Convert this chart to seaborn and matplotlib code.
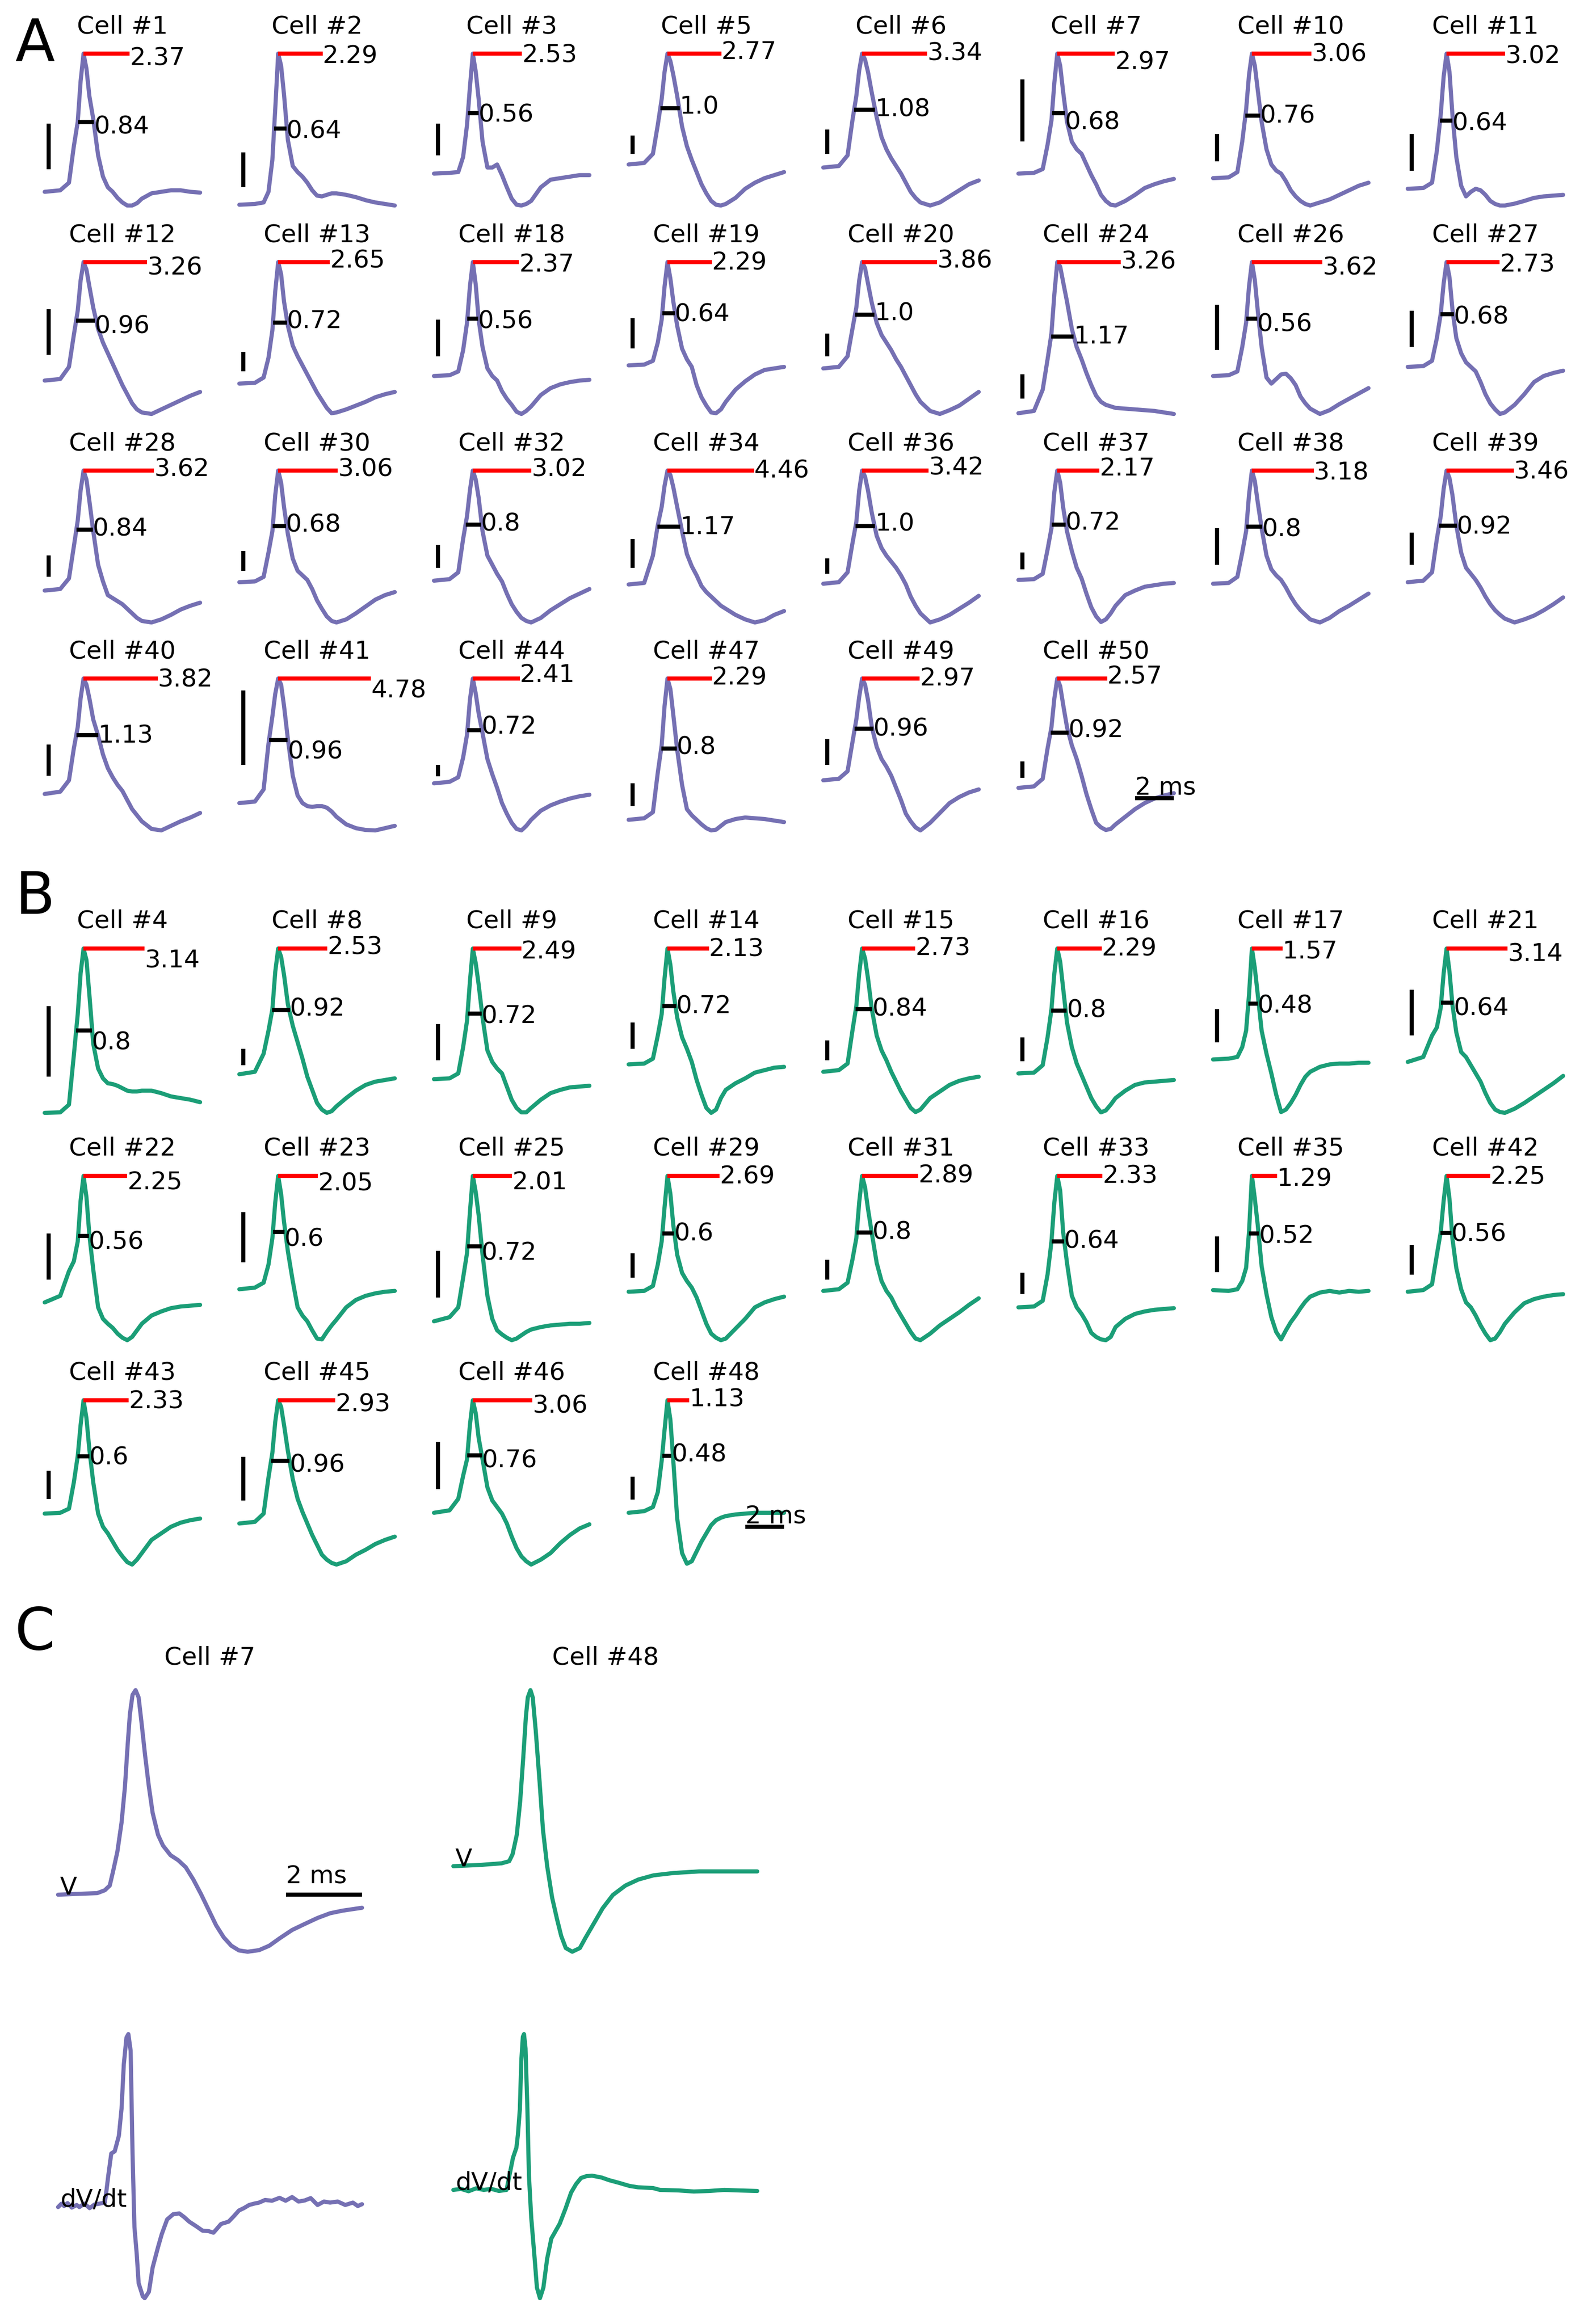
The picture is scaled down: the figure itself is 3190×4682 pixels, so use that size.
import matplotlib
matplotlib.use('Agg')
import matplotlib.pyplot as plt
import seaborn as sns
import numpy as np

# time grid shared by the cells of A and B (ms), spike peak at 2 ms
T = [0, .8, 1.25, 1.5, 1.7, 1.85, 2, 2.15, 2.3, 2.5, 2.75, 3, 3.25, 3.5, 3.75, 4, 4.25, 4.5, 4.75, 5, 5.5, 6, 6.5, 7, 7.5, 8]

# group A, voltage traces scaled to trough=0, peak=1
v1 = [.09,.1,.15,.39,.55,.82,1,.9,.72,.57,.33,.19,.12,.09,.05,.02,0,0,.015,.045,.08,.09,.10,.10,.09,.085]
v2 = [.005,.01,.02,.09,.3,.64,1,.92,.73,.43,.26,.22,.19,.15,.10,.065,.06,.07,.08,.08,.07,.055,.035,.02,.01,0]
v3 = [.21,.215,.22,.32,.53,.78,1,.88,.7,.42,.25,.25,.27,.2,.12,.045,.005,0,.01,.03,.12,.17,.18,.19,.2,.2]
v5 = [.27,.28,.34,.53,.7,.88,1,.95,.86,.72,.52,.39,.30,.22,.14,.08,.03,.005,0,.01,.05,.11,.15,.18,.2,.22]
v6 = [.25,.26,.33,.56,.72,.89,1,.96,.88,.74,.58,.45,.37,.31,.26,.21,.15,.09,.05,.02,0,.02,.06,.10,.14,.165]
v7 = [.21,.215,.24,.40,.56,.81,1,.92,.75,.55,.42,.37,.34,.27,.20,.14,.07,.03,.005,0,.03,.07,.115,.14,.16,.175]
v10 = [.18,.185,.22,.42,.63,.86,1,.92,.76,.55,.37,.27,.23,.21,.16,.10,.06,.03,.01,0,.02,.04,.07,.10,.13,.15]
v11 = [.11,.115,.15,.36,.6,.85,1,.88,.6,.32,.13,.06,.09,.11,.1,.07,.03,.01,0,0,.012,.03,.05,.06,.065,.07]
v12 = [.22,.23,.31,.52,.68,.88,1,.95,.84,.70,.56,.47,.40,.33,.26,.19,.13,.07,.03,.01,0,.03,.06,.09,.12,.145]
v13 = [.2,.205,.24,.37,.55,.81,1,.92,.74,.58,.45,.38,.32,.26,.20,.14,.09,.04,.005,.01,.03,.055,.08,.11,.13,.145]
v18 = [.25,.255,.28,.42,.6,.84,1,.85,.62,.44,.3,.25,.22,.15,.10,.06,.015,0,.02,.05,.125,.17,.195,.21,.22,.225]
v19 = [.32,.325,.35,.47,.62,.84,1,.89,.74,.58,.43,.36,.31,.19,.11,.055,.01,.005,.03,.08,.16,.215,.26,.29,.30,.31]
v20 = [.3,.31,.38,.56,.7,.88,1,.96,.86,.73,.6,.52,.47,.42,.36,.31,.25,.19,.13,.08,.02,0,.025,.055,.1,.145]
v24 = [.005,.02,.16,.36,.53,.79,1,.97,.87,.74,.56,.44,.36,.27,.19,.12,.08,.06,.05,.04,.035,.03,.025,.02,.01,0]
v26 = [.25,.255,.28,.44,.6,.84,1,.88,.68,.44,.24,.2,.23,.26,.265,.235,.19,.115,.07,.035,0,.025,.065,.1,.135,.17]
v27 = [.31,.315,.35,.5,.66,.86,1,.9,.69,.5,.4,.34,.31,.28,.21,.13,.07,.03,0,.01,.06,.13,.21,.25,.27,.285]
v28 = [.21,.22,.29,.5,.67,.87,1,.94,.8,.6,.38,.27,.18,.16,.14,.12,.09,.06,.03,.01,0,.02,.05,.085,.11,.13]
v30 = [.265,.27,.3,.46,.6,.84,1,.92,.76,.58,.42,.34,.31,.28,.22,.145,.09,.04,.01,0,.02,.06,.105,.15,.18,.2]
v32 = [.275,.285,.33,.55,.7,.87,1,.94,.82,.6,.44,.38,.32,.27,.19,.12,.07,.03,.01,0,.03,.08,.12,.16,.19,.22]
v34 = [.25,.26,.44,.64,.76,.9,1,.97,.89,.76,.6,.45,.37,.31,.24,.2,.17,.14,.11,.09,.05,.02,0,.015,.05,.075]
v36 = [.255,.265,.33,.52,.66,.87,1,.96,.87,.72,.57,.49,.44,.4,.36,.31,.25,.17,.11,.06,0,.02,.05,.09,.13,.175]
v37 = [.28,.285,.32,.48,.62,.86,1,.92,.76,.6,.47,.36,.29,.19,.1,.04,.003,.02,.06,.11,.18,.21,.235,.245,.255,.26]
v38 = [.255,.26,.3,.46,.6,.84,1,.93,.79,.62,.44,.35,.31,.28,.23,.17,.12,.08,.05,.02,0,.03,.075,.11,.15,.19]
v39 = [.265,.275,.33,.55,.7,.88,1,.95,.84,.64,.46,.36,.32,.28,.23,.17,.12,.08,.05,.025,0,.02,.045,.08,.12,.165]
v40 = [.24,.255,.33,.54,.68,.87,1,.96,.87,.73,.625,.5,.41,.35,.3,.26,.2,.14,.1,.06,.01,0,.03,.06,.085,.115]
v41 = [.18,.19,.27,.57,.75,.9,1,.96,.82,.6,.36,.23,.18,.16,.155,.16,.16,.15,.125,.09,.04,.015,.003,0,.015,.03]
v44 = [.31,.32,.35,.48,.63,.86,1,.9,.77,.64,.47,.37,.28,.18,.11,.05,.01,0,.03,.07,.13,.165,.19,.21,.225,.235]
v47 = [.07,.08,.12,.38,.56,.82,1,.93,.76,.53,.3,.14,.1,.07,.04,.015,0,.005,.03,.055,.075,.085,.08,.075,.065,.055]
v49 = [.33,.34,.39,.58,.73,.88,1,.96,.86,.68,.55,.47,.42,.36,.28,.2,.11,.06,.02,0,.05,.115,.18,.22,.25,.27]
v50 = [.28,.29,.34,.54,.68,.87,1,.95,.83,.68,.56,.47,.36,.24,.14,.05,.02,.003,.01,.04,.09,.14,.18,.21,.23,.245]

# group B
v4 = [0,.003,.05,.35,.6,.85,1,.93,.72,.42,.27,.21,.18,.175,.165,.15,.135,.13,.13,.135,.135,.12,.1,.09,.08,.065]
v8 = [.235,.25,.36,.5,.63,.86,1,.95,.84,.66,.53,.43,.33,.22,.14,.06,.02,0,.01,.04,.09,.135,.17,.19,.2,.21]
v9 = [.205,.21,.24,.4,.56,.8,1,.91,.78,.58,.38,.31,.27,.24,.16,.08,.03,.003,.003,.03,.08,.12,.14,.155,.16,.165]
v14 = [.295,.3,.33,.47,.6,.82,1,.9,.74,.58,.46,.39,.31,.2,.11,.03,0,.02,.09,.14,.18,.21,.245,.26,.275,.28]
v15 = [.25,.26,.3,.5,.65,.85,1,.94,.82,.63,.47,.38,.32,.25,.19,.13,.08,.03,.005,.02,.09,.13,.17,.195,.21,.22]
v16 = [.24,.245,.29,.46,.63,.85,1,.92,.76,.55,.4,.3,.23,.16,.09,.04,.003,.015,.05,.09,.135,.17,.185,.19,.195,.2]
v17 = [.325,.33,.34,.4,.5,.72,1,.88,.72,.5,.36,.24,.11,.005,.02,.06,.11,.17,.22,.25,.28,.295,.3,.3,.305,.305]
v21 = [.31,.34,.47,.52,.64,.85,1,.86,.66,.49,.37,.34,.29,.24,.19,.12,.06,.02,.005,0,.025,.06,.1,.14,.18,.225]
v22 = [.23,.27,.42,.48,.6,.85,1,.87,.64,.43,.2,.13,.1,.075,.04,.015,0,.02,.06,.1,.15,.175,.195,.205,.21,.215]
v23 = [.31,.32,.35,.46,.62,.84,1,.89,.72,.54,.36,.2,.15,.115,.06,.01,.005,.05,.09,.125,.2,.245,.27,.285,.295,.3]
v25 = [.115,.14,.2,.38,.53,.78,1,.9,.76,.52,.27,.13,.06,.035,.015,0,.01,.03,.05,.065,.08,.09,.095,.1,.1,.105]
v29 = [.295,.3,.33,.46,.6,.81,1,.89,.7,.52,.41,.36,.32,.26,.18,.1,.04,.015,0,.01,.07,.13,.2,.23,.25,.265]
v31 = [.3,.31,.35,.49,.62,.84,1,.93,.8,.65,.47,.36,.3,.26,.2,.15,.1,.05,.01,0,.04,.09,.13,.17,.215,.255]
v33 = [.2,.205,.24,.4,.6,.84,1,.91,.66,.47,.27,.2,.16,.11,.045,.02,.005,0,.02,.08,.13,.16,.175,.185,.19,.195]
v35 = [.305,.3,.31,.36,.44,.66,1,.86,.7,.45,.28,.14,.05,.005,.06,.11,.15,.195,.235,.265,.29,.3,.29,.3,.295,.3]
v42 = [.295,.305,.34,.52,.66,.85,1,.86,.62,.44,.31,.23,.2,.15,.09,.04,0,.01,.05,.1,.17,.225,.25,.265,.275,.28]
v43 = [.31,.315,.34,.5,.66,.85,1,.89,.7,.5,.31,.23,.19,.14,.09,.05,.015,0,.03,.07,.15,.19,.23,.255,.27,.28]
v45 = [.25,.26,.31,.53,.68,.87,1,.96,.85,.69,.52,.4,.32,.25,.18,.12,.06,.03,.01,0,.02,.06,.09,.125,.15,.17]
v46 = [.315,.33,.4,.54,.64,.85,1,.92,.77,.64,.47,.39,.35,.31,.25,.17,.1,.05,.02,0,.03,.07,.13,.18,.22,.245]
v48 = [.315,.325,.35,.44,.63,.82,1,.88,.63,.28,.07,.005,.02,.08,.14,.19,.24,.27,.285,.295,.305,.31,.315,.315,.315,.315]

cells_a = [1,2,3,5,6,7,10,11, 12,13,18,19,20,24,26,27, 28,30,32,34,36,37,38,39, 40,41,44,47,49,50]
traces_a = [v1,v2,v3,v5,v6,v7,v10,v11, v12,v13,v18,v19,v20,v24,v26,v27, v28,v30,v32,v34,v36,v37,v38,v39, v40,v41,v44,v47,v49,v50]
red_a = [2.37,2.29,2.53,2.77,3.34,2.97,3.06,3.02, 3.26,2.65,2.37,2.29,3.86,3.26,3.62,2.73, 3.62,3.06,3.02,4.46,3.42,2.17,3.18,3.46, 3.82,4.78,2.41,2.29,2.97,2.57]
black_a = [.84,.64,.56,1.0,1.08,.68,.76,.64, .96,.72,.56,.64,1.0,1.17,.56,.68, .84,.68,.8,1.17,1.0,.72,.8,.92, 1.13,.96,.72,.8,.96,.92]
bar_top_a = [.54,.35,.54,.46,.50,.83,.47,.47, .69,.41,.62,.63,.53,.26,.72,.68, .44,.47,.51,.55,.42,.46,.62,.59, .565,.92,.43,.31,.60,.455]
bar_bot_a = [.24,.12,.33,.34,.34,.42,.29,.23, .39,.28,.38,.43,.38,.10,.42,.44, .30,.34,.36,.36,.32,.35,.38,.38, .36,.43,.355,.16,.43,.345]
label_dy_a = [5,0,-2,-8,-6,13,-4,0, 7,-7,1,-3,-7,-5,7,1, -7,-7,-7,-4,-10,-9,0,-2, -3,19,-12,-7,-4,-9]

cells_b = [4,8,9,14,15,16,17,21, 22,23,25,29,31,33,35,42, 43,45,46,48]
traces_b = [v4,v8,v9,v14,v15,v16,v17,v21, v22,v23,v25,v29,v31,v33,v35,v42, v43,v45,v46,v48]
red_b = [3.14,2.53,2.49,2.13,2.73,2.29,1.57,3.14, 2.25,2.05,2.01,2.69,2.89,2.33,1.29,2.25, 2.33,2.93,3.06,1.13]
black_b = [.8,.92,.72,.72,.84,.8,.48,.64, .56,.6,.72,.6,.8,.64,.52,.56, .6,.96,.76,.48]
bar_top_b = [.65,.39,.54,.55,.44,.46,.63,.75, .65,.78,.545,.53,.49,.41,.63,.58, .57,.655,.745,.535]
bar_bot_b = [.22,.29,.32,.39,.32,.315,.43,.47, .37,.475,.26,.38,.37,.28,.415,.40, .40,.39,.46,.395]
label_dy_b = [19,-8,1,-4,-6,-5,0,6, 8,10,8,-4,-6,-5,1,-3, -3,3,6,-7]

# group C, example cells on their own time base
t_v7 = [0,.49,1.03,1.23,1.36,1.45,1.56,1.67,1.76,1.83,1.89,1.96,2.04,2.12,2.2,2.29,2.39,2.49,2.63,2.76,2.96,3.16,3.36,3.56,3.76,3.96,4.16,4.36,4.56,4.76,4.99,5.29,5.56,5.83,6.16,6.49,6.83,7.16,7.49,8.0]
v_v7 = [.218,.221,.224,.235,.253,.309,.382,.493,.631,.788,.908,.982,1,.972,.871,.751,.631,.53,.447,.406,.369,.35,.323,.276,.221,.161,.101,.055,.023,.005,0,.006,.023,.051,.083,.106,.129,.147,.157,.168]
t_v48 = [0,.73,1.27,1.47,1.56,1.67,1.76,1.84,1.91,1.96,2.03,2.09,2.17,2.27,2.36,2.47,2.6,2.73,2.84,2.96,3.13,3.33,3.47,3.67,3.93,4.2,4.53,4.87,5.27,5.8,6.47,7.27,8.0]
v_v48 = [.327,.332,.338,.346,.373,.447,.576,.742,.899,.972,1,.972,.843,.65,.465,.327,.207,.124,.06,.014,0,.014,.051,.101,.166,.217,.253,.276,.292,.301,.307,.307,.307]
t_d7 = [0,.09,.16,.25,.36,.49,.56,.69,.83,.96,1.09,1.23,1.27,1.32,1.4,1.49,1.6,1.67,1.73,1.8,1.85,1.91,1.96,2.01,2.07,2.12,2.23,2.28,2.39,2.49,2.63,2.73,2.87,3.03,3.19,3.32,3.45,3.63,3.8,3.96,4.09,4.29,4.49,4.63,4.76,4.89,5.03,5.16,5.29,5.45,5.63,5.83,5.99,6.16,6.33,6.49,6.65,6.83,7.0,7.16,7.36,7.56,7.76,7.89,8.0]
v_d7 = [.345,.358,.349,.36,.343,.353,.345,.358,.341,.355,.358,.362,.404,.463,.548,.556,.615,.717,.886,.987,1,.937,.548,.269,.167,.057,.007,0,.024,.117,.193,.243,.298,.318,.321,.307,.29,.273,.256,.254,.248,.281,.29,.311,.332,.341,.353,.358,.362,.372,.369,.38,.369,.383,.366,.37,.379,.353,.366,.362,.366,.353,.362,.349,.356]
t_d48 = [0,.2,.4,.6,.8,1.0,1.2,1.4,1.51,1.57,1.66,1.7,1.75,1.79,1.83,1.86,1.9,1.95,1.99,2.05,2.14,2.2,2.28,2.37,2.47,2.58,2.8,2.95,3.1,3.23,3.36,3.5,3.65,3.9,4.1,4.38,4.64,4.86,5.26,5.44,5.93,6.33,6.73,7.13,7.53,8.0]
v_d48 = [.41,.414,.405,.416,.41,.414,.406,.41,.489,.532,.57,.62,.714,.902,.99,1,.946,.714,.464,.306,.15,.04,0,.04,.15,.226,.282,.338,.4,.432,.455,.462,.464,.457,.447,.436,.425,.42,.417,.41,.408,.404,.406,.41,.408,.406]

PURPLE = '#7570b3'
GREEN = '#1b9e77'
W, H = 3190, 4682
DPI = 300
PX_PT = 72 / DPI
LW = 2

sns.set_style('white', {'text.color': 'black'})
fig = plt.figure(figsize=(W / DPI, H / DPI), dpi=DPI)


def make_axes(x0, top, w, h):
    # x0/top/w/h in image pixels, for the span of the trace; axes keeps 5% margin around it
    ax = fig.add_axes([(x0 - .05 * w) / W, 1 - (top + 1.05 * h) / H, 1.1 * w / W, 1.1 * h / H])
    ax.set_xlim(-.4, 8.4)
    ax.set_ylim(-.05, 1.05)
    ax.axis('off')
    return ax


def bar(ax, x, y):
    ax.plot(x, y, color='k', lw=LW, solid_capstyle='butt', clip_on=False)


def draw_group(cells, traces, red, black, top_bar, bot_bar, dy, tops, height, color):
    for i, cell in enumerate(cells):
        col, row = i % 8, i // 8
        ax = make_axes(COL_X[col], tops[row], PANEL_W, height)
        sns.lineplot(x=T, y=traces[i], ax=ax, color=color, lw=LW)
        ax.set_title(f'Cell #{cell}', fontsize=12)
        # spike width at the base
        ax.plot([2, 2 + red[i]], [1, 1], color='red', lw=LW, solid_capstyle='butt')
        offset = (0, -dy[i] * PX_PT)
        ax.annotate(str(red[i]), (2 + red[i], 1), xytext=offset, textcoords='offset points', fontsize=12, va='center_baseline')
        # half width, starts where the rising phase crosses half height
        half = (1 + traces[i][1]) / 2
        left = np.interp(half, traces[i][:7], T[:7])
        bar(ax, [left, left + black[i]], [half, half])
        ax.annotate(str(black[i]), (left + black[i], half), xytext=offset, textcoords='offset points', fontsize=12, va='center_baseline')
        # voltage scale bar
        bar(ax, [.2, .2], [bot_bar[i], top_bar[i]])


COL_X = [90, 482, 874, 1266, 1658, 2051, 2443, 2835]
PANEL_W = 313
TOPS_A = [108, 528, 948, 1367]
TOPS_B = [1911, 2369, 2821]

draw_group(cells_a, traces_a, red_a, black_a, bar_top_a, bar_bot_a, label_dy_a, TOPS_A, 306, PURPLE)
draw_group(cells_b, traces_b, red_b, black_b, bar_top_b, bar_bot_b, label_dy_b, TOPS_B, 331, GREEN)

# 2 ms bars on the last panel of A and B
for cell_col, top, height, y_bar in [(5, TOPS_A[3], 306, .214), (3, TOPS_B[2], 331, .23)]:
    ax = make_axes(COL_X[cell_col], top, PANEL_W, height)
    bar(ax, [6, 8], [y_bar, y_bar])
    ax.text(6, y_bar + .02, '2 ms', fontsize=12)

# C
ax = make_axes(117, 3405, 612, 527)
sns.lineplot(x=t_v7, y=v_v7, ax=ax, color=PURPLE, lw=LW)
ax.set_title('Cell #7', fontsize=12)
ax.text(.05, v_v7[0], 'V', fontsize=12)
bar(ax, [6, 8], [.219, .219])
ax.text(6, .26, '2 ms', fontsize=12)

ax = make_axes(913, 3405, 612, 527)
sns.lineplot(x=t_v48, y=v_v48, ax=ax, color=GREEN, lw=LW)
ax.set_title('Cell #48', fontsize=12)
ax.text(.05, v_v48[0], 'V', fontsize=12)

ax = make_axes(117, 4098, 612, 532)
sns.lineplot(x=t_d7, y=v_d7, ax=ax, color=PURPLE, lw=LW)
ax.text(.05, v_d7[0], 'dV/dt', fontsize=12)

ax = make_axes(913, 4098, 612, 532)
sns.lineplot(x=t_d48, y=v_d48, ax=ax, color=GREEN, lw=LW)
ax.text(.05, v_d48[0], 'dV/dt', fontsize=12)

fig.text(30 / W, 1 - 123 / H, 'A', fontsize=28)
fig.text(30 / W, 1 - 1841 / H, 'B', fontsize=28)
fig.text(30 / W, 1 - 3323 / H, 'C', fontsize=28)

fig.savefig('out.png', dpi=DPI)
